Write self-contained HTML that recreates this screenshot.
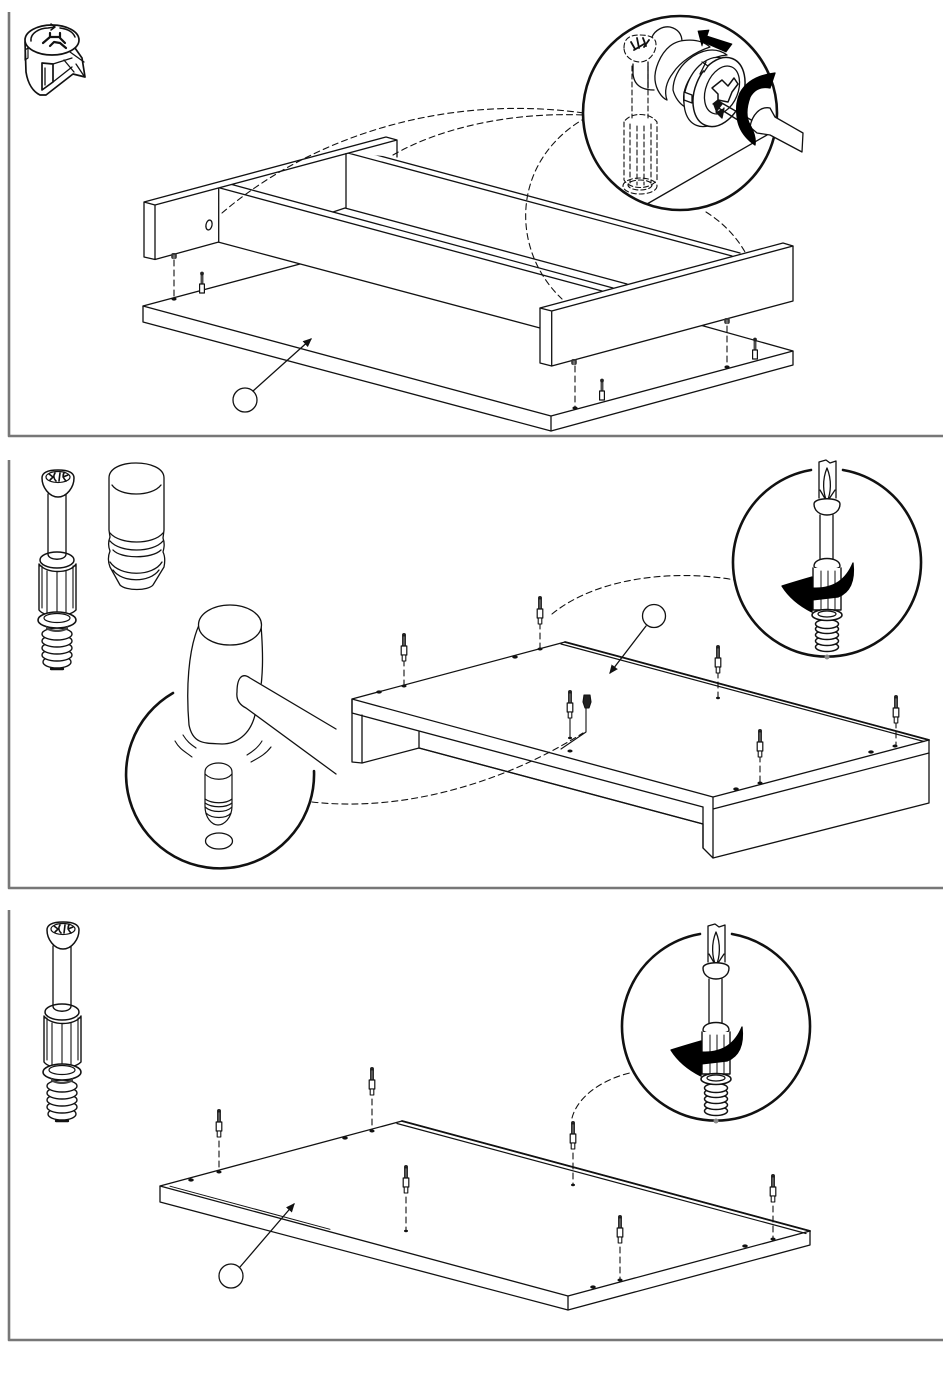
<!DOCTYPE html>
<html><head><meta charset="utf-8"><style>
html,body{margin:0;padding:0;background:#fff;width:950px;height:1378px;overflow:hidden}
svg{display:block}
</style></head><body>
<svg xmlns="http://www.w3.org/2000/svg" width="950" height="1378" viewBox="0 0 950 1378" fill="none" stroke="#111" stroke-width="1.3" stroke-linejoin="round" stroke-linecap="round">
<defs>
<marker id="ar" markerWidth="8" markerHeight="8" refX="6" refY="3" orient="auto"><path d="M0,0 L7,3 L0,6Z" fill="#111" stroke="none"/></marker>
<g id="pin">
  <circle cx="0" cy="-21" r="2" fill="#222" stroke="none"/>
  <rect x="-1.5" y="-20" width="3" height="10" fill="#555" stroke-width=".8"/>
  <rect x="-2.8" y="-10" width="5.6" height="9" fill="#fff" stroke-width="1.2"/>
  <rect x="-1.8" y="-1" width="3.6" height="6" fill="#fff" stroke-width="1.1"/>
</g>
<g id="pinS">
  <circle cx="0" cy="-19.5" r="1.9" fill="#222" stroke="none"/>
  <path d="M-.8,-18 L-.8,-9 M.8,-18 L.8,-9" stroke-width="1.1"/>
  <rect x="-2.4" y="-9" width="4.8" height="9" fill="#fff" stroke-width="1.2"/>
</g>
<g id="cam">
  <rect x="-2.8" y="-3" width="5.6" height="6" rx="2" fill="#333" stroke="none"/>
  <path d="M-.8,-1 V3 M.8,-1 V3" stroke="#aaa" stroke-width=".6"/>
</g>
<g id="bigscrew">
  <path d="M48,494 V556 M66,494 V556"/>
  <path d="M42,478 C42,472 49,470 58,470 C67,470 74,472 74,478 C74,487 67,497 58,497 C49,497 42,487 42,478Z" fill="#fff" stroke-width="1.5"/>
  <ellipse cx="58" cy="477" rx="12" ry="5.5" stroke-width="1.2"/>
  <path d="M49,474 L53,477 L50,480 M55,473 C53,476 54,479 56,481 M60,473 L59,481 M64,473 C62,476 64,479 66,481 M68,475 L63,477" stroke-width="1.6"/>
  <ellipse cx="57" cy="560" rx="17" ry="8" fill="#fff" stroke-width="1.5"/>
  <path d="M48,554 C48,561 66,561 66,554" stroke-width="1.4"/>
  <path d="M39,564 V610 C45,618 68,618 76,610 V564 C70,574 46,574 39,564Z" fill="#fff" stroke-width="1.4"/>
  <path d="M39,566 H42 V608 M76,566 H73 V608 M47,571 V613 M57,572 V615 M66,571 V613" stroke-width="1.1"/>
  <ellipse cx="57" cy="656" rx="14" ry="6" fill="#fff" stroke-width="1.4" transform="translate(0,6)"/>
  <ellipse cx="57" cy="655" rx="15" ry="6" fill="#fff" stroke-width="1.4"/>
  <ellipse cx="57" cy="648" rx="15" ry="6" fill="#fff" stroke-width="1.4"/>
  <ellipse cx="57" cy="641" rx="15" ry="6" fill="#fff" stroke-width="1.4"/>
  <ellipse cx="57" cy="634" rx="15" ry="6" fill="#fff" stroke-width="1.4"/>
  <path d="M51,669 H63" stroke-width="2.4"/>
  <ellipse cx="57" cy="620" rx="19" ry="8" fill="#fff" stroke-width="1.6"/>
  <ellipse cx="57" cy="618" rx="13" ry="4.5" stroke-width="1.2"/>
  <path d="M46,626 C52,631 62,631 68,626 V629 C62,633 52,633 46,629Z" fill="#444" stroke="none"/>
</g>
<g id="drive">
  <path d="M811,470 A94,94 0 1,0 843,470" stroke-width="2.6"/>
  <path d="M819,498 V470 L819,462 L826,460 L830,463 L836,461 V498" fill="#fff"/>
  <path d="M827,468 C822,480 823,493 827,502 C831,493 832,480 827,468Z M820,490 L827,502 M835,490 L827,502" fill="#fff"/>
  <path d="M814,504 C814,497 840,497 840,504 C840,511 834,515 827,515 C820,515 814,511 814,504Z" fill="#fff" stroke-width="1.4"/>
  <path d="M820,515 V562 M833,515 V562"/>
  <path d="M814,566 C814,556 840,556 840,566 C840,571 814,571 814,566Z" fill="#fff" stroke-width="1.4"/>
  <path d="M813,568 V610 H841 V568" fill="#fff" stroke-width="1.4"/>
  <path d="M821,571 V610 M828,571 V610 M835,571 V610" stroke-width="1"/>
  <path d="M782,586 Q798,581 812,577 V588 Q842,590 853,563 Q856,590 838,597 L812,600 V612 Q792,602 782,586Z" fill="#000" stroke="#000"/>
  <ellipse cx="827" cy="647" rx="11.5" ry="4.5" fill="#fff" stroke-width="1.5"/>
  <ellipse cx="827" cy="641" rx="11.5" ry="4.5" fill="#fff" stroke-width="1.5"/>
  <ellipse cx="827" cy="635" rx="11.5" ry="4.5" fill="#fff" stroke-width="1.5"/>
  <ellipse cx="827" cy="629" rx="11.5" ry="4.5" fill="#fff" stroke-width="1.5"/>
  <ellipse cx="827" cy="624" rx="11.5" ry="4.5" fill="#fff" stroke-width="1.5"/>
  <ellipse cx="827" cy="615" rx="15" ry="5.5" fill="#fff" stroke-width="1.6"/>
  <ellipse cx="827" cy="614" rx="9" ry="3" stroke-width="1.2"/>
  <circle cx="827" cy="657" r="2.5" fill="#888" stroke="none"/>
</g>
</defs>

<!-- frames -->
<g stroke="#777" stroke-width="2.6" stroke-linecap="butt">
  <path d="M9,12 V436 H943"/>
  <path d="M9,460 V888 H943"/>
  <path d="M9,910 V1340 H943"/>
</g>

<!-- PANEL 1 -->
<!-- cam icon -->
<g stroke-width="1.7">
  <path d="M25,42 L26,72 C28,85 34,92 40,95 L46,95 L73,74 L85,77 L82,58 L75,48Z" fill="#fff"/>
  <ellipse cx="52" cy="40" rx="27" ry="15" fill="#fff"/>
  <path d="M31,41 C30,33 40,28 48,28 L55,27 M55,27 l-4,-3 M55,27 l-4,3 M60,28 C68,29 73,32 75,37" stroke-width="1.5"/>
  <path d="M43,43 L50,37 V33 M60,33 V38 L65,43 M50,37 H60 M50,46 L54,42 L60,43 L66,48" stroke-width="2.2"/>
  <path d="M42,63 V90 L53,82 V64 Z" fill="#fff"/>
  <path d="M45,68 V85 M53,64 L72,58 M53,82 L72,67 M64,60 L74,72 M70,52 L84,62 M76,64 L84,76" stroke-width="1.3"/>
  <path d="M25,50 l3,-2 v10 l-3,2z" stroke-width="1.2"/>
</g>

<!-- base board -->
<path d="M300,264 L143,306 V322 L551,431 L793,365 V351 L700,325" fill="#fff"/>
<path d="M143,306 L551,416 L793,351 M551,416 V431"/>

<!-- rails -->
<path d="M218,188 L397,140 L740,253 L613,288 L602,291 L540,328 L218,242Z" fill="#fff" stroke="none"/>
<path d="M218,242 L540,328"/>
<path d="M220,188 L602,291 M230,184 L613,288"/>
<path d="M333,212 L345,208 L627,284"/>
<path d="M346,153 V208"/>
<path d="M348,153 L732,256 M358,150 L740,253"/>
<!-- left board -->
<path d="M144,202 L386,137 L397,140 V157 L346,153 L219,188 V242 L155,259.5 L144,257Z" fill="#fff" stroke="none"/>
<path d="M144,202 L386,137 L397,140 L155,205 Z M144,202 V257 L155,259.5 V205 M155,259.5 L218.7,242 V188 M397,140 V157"/>
<ellipse cx="209" cy="225" rx="3" ry="5" transform="rotate(12 209 225)"/>
<!-- right board -->
<path d="M540,308 L783,243 L793,246 V301 L551.7,366 L540,363Z" fill="#fff"/>
<path d="M540,308 L551.7,311 L793,246 M551.7,311 V366"/>

<!-- dashed connectors -->
<g stroke-dasharray="6 4" stroke-width="1.1">
  <path d="M222,213 C300,146 430,92 584,113"/>
  <path d="M393,155 C440,128 510,112 584,115"/>
  <path d="M587,117 C510,160 510,250 562,299"/>
  <path d="M706,212 C722,222 736,236 745,252"/>
  <path d="M174,260 V297 M575,366 V407 M727,326 V366"/>
</g>
<use href="#cam" x="174" y="256"/><use href="#cam" x="574" y="362"/><use href="#cam" x="727" y="321"/>
<g fill="#111" stroke="none"><ellipse cx="174" cy="299" rx="2.6" ry="1.6"/><ellipse cx="575" cy="408" rx="2.6" ry="1.6"/><ellipse cx="727" cy="367" rx="2.6" ry="1.6"/></g>
<use href="#pinS" x="202" y="293"/><use href="#pinS" x="602" y="400"/><use href="#pinS" x="755" y="359"/>

<circle cx="245" cy="400" r="12" fill="#fff"/>
<path d="M253,391 L311,339" marker-end="url(#ar)"/>

<!-- detail circle top right -->
<circle cx="680" cy="113" r="97" fill="#fff" stroke-width="2.6"/>
<g stroke-width="1.3">
  <path d="M647,204 L767,135"/>
  <!-- dashed screw -->
  <g stroke-dasharray="5 3" stroke-width="1.1">
    <path d="M632,66 V118 M648,66 V118"/>
    <path d="M624,122 V180 C630,190 650,190 657,180 V122 C650,112 630,112 624,122Z"/>
    <path d="M630,124 V183 M637,126 V185 M644,126 V185 M651,124 V183"/>
    <ellipse cx="640" cy="186" rx="17" ry="8"/>
    <ellipse cx="640" cy="185" rx="12" ry="5"/>
    <path d="M624,48 C624,38 630,35 640,35 C650,35 656,38 656,44 C656,54 648,62 640,62 C632,62 624,56 624,48Z"/>
  </g>
  <path d="M631,42 l4,7 M637,38 l2,10 M643,38 l3,8 M649,40 l-5,7 M634,50 l10,-6" stroke-width="1.8"/>
  <!-- ball stem -->
  <path d="M652,37 C655,30 663,26 670,27 C678,29 682,34 682,42"/>
  <path d="M633,64 V74 C634,84 640,90 654,90 M648,62 V88"/>
  <!-- cam spirals -->
  <path d="M710,47 C700,38 680,38 670,46 C660,54 654,70 655,80 C656,90 662,98 667,100 C664,92 666,82 673,73 C680,62 695,52 710,47Z" fill="#fff"/>
  <path d="M727,55 C715,46 700,50 688,60 C678,68 673,80 673,90 C675,98 680,104 685,107 C682,98 684,88 690,78 C698,66 712,56 727,55Z" fill="#fff"/>
  <ellipse cx="710" cy="92" rx="24" ry="36" transform="rotate(22 710 92)" fill="#fff"/>
  <ellipse cx="719" cy="92" rx="24" ry="36" transform="rotate(22 719 92)" fill="#fff" stroke-width="1.5"/>
  <ellipse cx="722" cy="90" rx="16" ry="25" transform="rotate(22 722 90)"/>
  <path d="M684,92 L692,95 L692,103 L684,100Z M700,74 L706,62 M702,62 L708,66 L704,72" fill="#fff"/>
  <path d="M712,88 L722,80 L728,86 L734,78 L738,84 L732,92 L728,102 L718,100 L718,94Z" fill="#fff" stroke-width="1.5"/>
  <path d="M716,112 L722,104 L718,100 L713,104 M716,112 L722,118 L724,108" fill="#111"/>
  <path d="M720,102 L753,121 M717,107 L749,127" stroke-width="1.4"/>
  <!-- handle -->
  <path d="M750,127 C752,115 760,106 770,108 L775,117 L803,133 L802,152 L770,135 L757,133Z" fill="#fff"/>
  <path d="M740,93 C746,82 758,75 775,73 L770,88 C760,86 754,90 750,97 C746,108 746,118 750,125 C754,132 756,138 755,145 C745,138 738,128 737,116 C736,106 737,100 740,93Z" fill="#000" stroke="#000"/>
</g>
<path d="M698,31 L709,30 L707,36 L732,44 L726,52 L703,42 L702,46Z" fill="#000" stroke="#000" stroke-width=".8"/>

<!-- PANEL 2 -->
<use href="#bigscrew"/>
<!-- plug -->
<g stroke-width="1.3">
  <path d="M109,478 C109,468 122,463 136,463 C150,463 164,468 164,478 V530 L163,538 C165,544 164,548 163,552 C165,556 165,562 164,567 L153,585 C148,591 126,591 120,585 L110,567 C108,562 108,556 110,551 C108,546 108,542 110,537 L109,530Z" fill="#fff"/>
  <path d="M112,485 C120,497 152,497 161,485"/>
  <path d="M110,533 C120,545 153,545 163,533 M110,541 C120,553 153,553 163,541 M113,550 C121,559 152,559 161,550 M110,562 C120,577 153,577 162,562 M113,570 C122,583 150,583 159,570"/>
</g>

<!-- table -->
<path d="M352,699 L565,642 L929,740 V803 L713,858 L703,848 V824 L419,748 L362,763 L352,762Z" fill="#fff"/>
<path d="M352,699 L713,797 L929,740 M352,699 V713 L703,807 M713,797 V858 M713,809 L929,753"/>
<path d="M362,715 V763 M419,732 V748 M419,748 L703,824 M703,807 V848"/>
<path d="M561,644 L924,741.5" stroke-width="1.2"/>
<path d="M565,642 L929,740" stroke-width="1.8"/>

<!-- hammer circle -->
<path d="M173,693 A94,94 0 1,0 314,771" stroke-width="2.6"/>
<path d="M199,625 C188,650 186,690 189,725 C193,745 206,743 222,744 C236,744 250,735 255,715 C266,680 262,640 261,625" fill="#fff"/>
<ellipse cx="230" cy="625" rx="31.5" ry="20" fill="#fff"/>
<path d="M248,676 C238,672 236,685 238,700 C240,704 242,706 246,708 L336,774 V728Z" fill="#fff" stroke="none"/>
<path d="M336,729 L250,678 C242,672 237,678 237,692 C236,700 240,705 246,708 L336,774"/>
<path d="M175,741 C180,750 186,752 192,757 M183,735 C188,743 192,745 196,748 M262,741 C258,748 252,752 247,755 M271,747 C265,755 258,758 251,762" stroke-width="1.1"/>
<g stroke-width="1.2">
  <path d="M205,772 C205,760 232,760 232,772 V806 C232,818 224,825 218,825 C212,825 205,818 205,806Z" fill="#fff"/>
  <path d="M205,774 C212,781 226,781 232,774 M205,799 C212,804 226,804 232,799 M205,803 C212,808 226,808 232,803 M205,807 C212,813 226,813 232,807 M206,813 C212,819 226,819 231,813"/>
</g>
<ellipse cx="219" cy="841" rx="13.5" ry="8"/>

<g stroke-dasharray="6 4" stroke-width="1.1">
  <path d="M312,802 C400,812 500,785 583,733"/>
  <path d="M552,614 C600,575 680,570 735,580"/>
  <path d="M404,660 V686 M540,623 V648 M718,672 V697 M760,756 V782 M896,722 V745"/>
</g>
<use href="#pin" x="404" y="656"/><use href="#pin" x="540" y="619"/><use href="#pin" x="718" y="668"/><use href="#pin" x="570" y="713"/><use href="#pin" x="760" y="752"/><use href="#pin" x="896" y="718"/>
<path d="M570,718 V737 M586,708 V732 L561,749" stroke-width="1.1"/>
<g stroke-width="1.1"><path d="M584,695 H590 L591,702 L589,708 H585 L583,702Z" fill="#222"/></g>
<g fill="#111" stroke="none">
  <ellipse cx="379" cy="692" rx="2.8" ry="1.6"/><ellipse cx="404" cy="686" rx="2.6" ry="1.5"/><ellipse cx="515" cy="657" rx="2.8" ry="1.6"/><ellipse cx="540" cy="649" rx="2.6" ry="1.5"/>
  <ellipse cx="736" cy="789" rx="2.8" ry="1.6"/><ellipse cx="760" cy="783" rx="2.6" ry="1.5"/><ellipse cx="871" cy="752" rx="2.8" ry="1.6"/><ellipse cx="895" cy="746" rx="2.6" ry="1.5"/>
  <ellipse cx="570" cy="751" rx="2.6" ry="1.5"/><ellipse cx="718" cy="698" rx="2" ry="1.2"/><ellipse cx="570" cy="738" rx="2" ry="1.2"/>
</g>

<circle cx="654" cy="616" r="11.5" fill="#fff"/>
<path d="M646,626 L610,673" marker-end="url(#ar)"/>
<use href="#drive"/>

<!-- PANEL 3 -->
<use href="#bigscrew" transform="translate(5,452)"/>
<path d="M160,1186 L402,1121 L810,1231 V1245 L568,1310 L160,1202Z" fill="#fff"/>
<path d="M160,1186 L568,1296 L810,1231 M568,1296 V1310"/>
<path d="M397,1123.5 L806,1233.5" stroke-width="1.2"/>
<path d="M402,1121 L810,1231" stroke-width="1.8"/>
<path d="M170,1186.2 L330,1229.3" stroke-width="1"/>

<g stroke-dasharray="6 4" stroke-width="1.1">
  <path d="M572,1118 C578,1095 605,1078 634,1072"/>
  <path d="M219,1141 V1172 M372,1099 V1131 M573,1153 V1184 M406,1197 V1230 M620,1247 V1280 M773,1206 V1238"/>
</g>
<use href="#pin" x="219" y="1132"/><use href="#pin" x="372" y="1090"/><use href="#pin" x="573" y="1144"/><use href="#pin" x="406" y="1188"/><use href="#pin" x="620" y="1238"/><use href="#pin" x="773" y="1197"/>
<g fill="#111" stroke="none">
  <ellipse cx="191" cy="1180" rx="2.8" ry="1.6"/><ellipse cx="219" cy="1172" rx="2.6" ry="1.5"/><ellipse cx="345" cy="1138" rx="2.8" ry="1.6"/><ellipse cx="372" cy="1131" rx="2.6" ry="1.5"/>
  <ellipse cx="593" cy="1287" rx="2.8" ry="1.6"/><ellipse cx="620" cy="1280" rx="2.6" ry="1.5"/><ellipse cx="745" cy="1246" rx="2.8" ry="1.6"/><ellipse cx="773" cy="1239" rx="2.6" ry="1.5"/>
  <ellipse cx="573" cy="1185" rx="2" ry="1.2"/><ellipse cx="406" cy="1231" rx="2" ry="1.2"/>
</g>
<circle cx="231" cy="1276" r="12" fill="#fff"/>
<path d="M240,1267 L294,1204" marker-end="url(#ar)"/>
<use href="#drive" transform="translate(-111,464)"/>
</svg>
</body></html>
